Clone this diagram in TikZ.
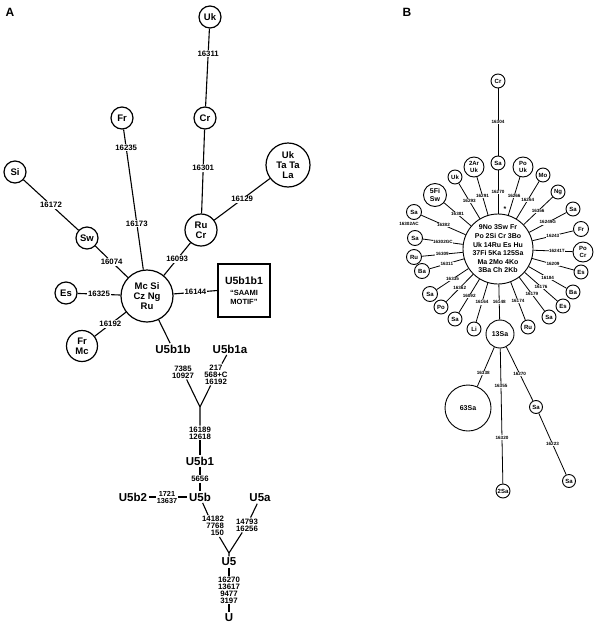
\documentclass[tikz,border=0pt]{standalone}
\usepackage{fontspec}
\setmainfont{Liberation Sans}

\begin{document}
\begin{tikzpicture}[x=1pt, y=-1pt,
    hapA/.style = {draw, circle, line width=1.2pt, inner sep=0pt, minimum size=22pt, align=center, font=\fontsize{9.5}{10}\selectfont\bfseries},
    mutA/.style = {fill=white, inner sep=1pt, align=center, font=\fontsize{7.8}{7}\selectfont\bfseries},
    grpA/.style = {inner sep=1.5pt, font=\fontsize{11.5}{12}\selectfont\bfseries},
    lineA/.style = {draw, line width=1.1pt},
    hapB/.style = {draw, circle, line width=0.9pt, inner sep=0pt, minimum size=14pt, align=center, font=\fontsize{6}{6.5}\selectfont\bfseries},
    mutB/.style = {fill=white, inner sep=0.5pt, font=\fontsize{4.6}{5}\selectfont\bfseries},
    lineB/.style = {draw, line width=0.8pt},
    panel/.style = {font=\fontsize{12}{12}\selectfont\bfseries}]
        \useasboundingbox (0,0) rectangle (595,627);
        \node (labA) at (10,12) [panel] {A};
        \node (labB) at (407,12) [panel] {B};

        \node (aUk) at (210,17) [hapA] {Uk};
        \node (aCr) at (205,118) [hapA] {Cr};
        \node (aFr) at (122,118) [hapA] {Fr};
        \node (aSi) at (15,172) [hapA] {Si};
        \node (aUkTa) at (288,165) [hapA, minimum size=44pt] {Uk\\Ta Ta\\La};
        \node (aRuCr) at (201,230) [hapA, minimum size=32pt] {Ru\\Cr};
        \node (aSw) at (87,238) [hapA] {Sw};
        \node (aHub) at (147,296) [hapA, minimum size=52pt] {Mc Si\\Cz Ng\\Ru};
        \node (aEs) at (66,293) [hapA] {Es};
        \node (aFrMc) at (82,346) [hapA, minimum size=31pt] {Fr\\Mc};
        \node (aBox) at (244,290.5) [draw, line width=1.1pt, minimum width=52pt, minimum height=53pt, inner sep=0pt, align=center, font=\fontsize{7.5}{9}\selectfont\bfseries] {{\fontsize{10.5}{12}\selectfont U5b1b1}\\[2pt]``SAAMI\\MOTIF''};
        \path [lineA] (aUk) -- node [mutA, pos=0.32] {16311} (aCr);
        \path [lineA] (aCr) -- node [mutA, pos=0.46] {16301} (aRuCr);
        \path [lineA] (aUkTa) -- node [mutA] {16129} (aRuCr);
        \path [lineA] (aRuCr) -- node [mutA] {16093} (aHub);
        \path [lineA] (aFr) -- node [mutA, pos=0.13] {16235} node [mutA, pos=0.67] {16173} (aHub);
        \path [lineA] (aSi) -- node [mutA] {16172} (aSw);
        \path [lineA] (aSw) -- node [mutA] {16074} (aHub);
        \path [lineA] (aEs) -- node [mutA] {16325} (aHub);
        \path [lineA] (aFrMc) -- node [mutA] {16192} (aHub);
        \path [lineA] (aBox.west) -- node [mutA] {16144} (aHub);

        \node (aU5b1b) at (173,349) [grpA] {U5b1b};
        \node (aU5b1a) at (230,349) [grpA] {U5b1a};
        \node (am1) at (183,372) [mutA] {7385\\10927};
        \node (am2) at (216,374.5) [mutA] {217\\568+C\\16192};
        \coordinate (aj1) at (200,407);
        \node (am3) at (200,433) [mutA] {16189\\12618};
        \node (aU5b1) at (200,461) [grpA] {U5b1};
        \node (am4) at (200,479) [mutA] {5656};
        \node (aU5b) at (200,497) [grpA] {U5b};
        \node (am5) at (167,497) [mutA, font=\fontsize{7.3}{7}\selectfont\bfseries] {1721\\13637};
        \node (aU5b2) at (133,497) [grpA] {U5b2};
        \node (aU5a) at (260,498) [grpA] {U5a};
        \node (am6) at (213,526) [mutA, align=right] {14182\\7768\\150};
        \node (am7) at (247,525) [mutA] {14793\\16256};
        \coordinate (aj2) at (229,553);
        \node (aU5) at (229,562) [grpA] {U5};
        \node (am8) at (229,590) [mutA] {16270\\13617\\9477\\3197};
        \node (aU) at (229,618) [grpA] {U};
        \path [lineA] (aHub) -- (aU5b1b);
        \path [lineA] (aU5b1a) -- (am2);
        \path [lineA] (am1) -- (aj1) -- (am3);
        \path [lineA] (am2) -- (aj1);
        \path [lineA] (am3) -- (aU5b1);
        \path [lineA] (aU5b1) -- (am4);
        \path [lineA] (am4) -- (aU5b);
        \path [lineA] (aU5b2) -- (am5);
        \path [lineA] (am5) -- (aU5b);
        \path [lineA] (aU5b) -- (am6);
        \path [lineA] (am6) -- (aj2) -- (aU5);
        \path [lineA] (aU5a) -- (am7);
        \path [lineA] (am7) -- (aj2);
        \path [lineA] (aU5) -- (am8);
        \path [lineA] (am8) -- (aU);

        \node (bHub) at (498,249) [draw, circle, line width=0.9pt, minimum size=70pt, inner sep=0pt, align=center, font=\fontsize{7}{8.6}\selectfont\bfseries] {9No 3Sw Fr\\Po 2Si Cr 3Bo\\Uk 14Ru Es Hu\\37Fi 5Ka 125Sa\\Ma 2Mo 4Ko\\3Ba Ch 2Kb};
        \node (bCr) at (498,81) [hapB] {Cr};
        \node (bSa1) at (498,163) [hapB] {Sa};
        \node (bStar) at (505,209) [font=\fontsize{7}{7}\selectfont\bfseries] {*};
        \node (bPoUk) at (523,167) [hapB, minimum size=20pt] {Po\\Uk};
        \node (bMo) at (543,175) [hapB] {Mo};
        \node (bNg) at (558,192) [hapB] {Ng};
        \node (bSa2) at (573,209) [hapB] {Sa};
        \node (bFr) at (581,229) [hapB, minimum size=15pt] {Fr};
        \node (bPoCr) at (583,252) [hapB, minimum size=20pt] {Po\\Cr};
        \node (bEs1) at (581,272) [hapB] {Es};
        \node (bBa1) at (573,292) [hapB] {Ba};
        \node (bEs2) at (563,306) [hapB] {Es};
        \node (bSa3) at (549,317) [hapB] {Sa};
        \node (bRu1) at (528,327) [hapB] {Ru};
        \node (b13Sa) at (500,334) [hapB, minimum size=28pt, font=\fontsize{7}{7}\selectfont\bfseries] {13Sa};
        \node (bLi) at (474,329) [hapB] {Li};
        \node (bSa4) at (455,319) [hapB] {Sa};
        \node (bPo) at (441,307) [hapB] {Po};
        \node (bSa5) at (430,294) [hapB, minimum size=15pt] {Sa};
        \node (bBa2) at (422,271) [hapB, minimum size=15pt] {Ba};
        \node (bRu2) at (414,257) [hapB, minimum size=15pt] {Ru};
        \node (bSa6) at (415,238) [hapB, minimum size=15pt] {Sa};
        \node (bSa7) at (414,212) [hapB, minimum size=15pt] {Sa};
        \node (bAC) at (409,224) [mutB, fill=none] {16302AC};
        \node (b5FiSw) at (435,195) [hapB, minimum size=23pt, font=\fontsize{7}{7.5}\selectfont\bfseries] {5Fi\\Sw};
        \node (bUk) at (455,177) [hapB] {Uk};
        \node (b2ArUk) at (474,167) [hapB, minimum size=20pt] {2Ar\\Uk};
        \node (b63Sa) at (468,408) [hapB, minimum size=46pt, font=\fontsize{7}{7}\selectfont\bfseries] {63Sa};
        \node (b2Sa) at (503,491) [hapB] {2Sa};
        \node (bSa8) at (536,407) [hapB, minimum size=13pt] {Sa};
        \node (bSa9) at (569,481) [hapB, minimum size=13pt] {Sa};
        \path [lineB] (bCr) -- node [mutB] {16304} (bSa1);
        \path [lineB] (bSa1) -- node [mutB] {16270} (bHub);
        \path [lineB] (bHub) -- node [mutB] {16266} (bPoUk);
        \path [lineB] (bHub) -- node [mutB] {16264} (bMo);
        \path [lineB] (bHub) -- node [mutB] {16356} (bNg);
        \path [lineB] (bHub) -- node [mutB] {16249G} (bSa2);
        \path [lineB] (bHub) -- node [mutB] {16243} (bFr);
        \path [lineB] (bHub) -- node [mutB, pos=0.6] {16241T} (bPoCr);
        \path [lineB] (bHub) -- node [mutB] {16209} (bEs1);
        \path [lineB] (bHub) -- node [mutB] {16184} (bBa1);
        \path [lineB] (bHub) -- node [mutB] {16176} (bEs2);
        \path [lineB] (bHub) -- node [mutB] {16179} (bSa3);
        \path [lineB] (bHub) -- node [mutB] {16174} (bRu1);
        \path [lineB] (bHub) -- node [mutB] {16148} (b13Sa);
        \path [lineB] (bHub) -- node [mutB] {16164} (bLi);
        \path [lineB] (bHub) -- node [mutB] {16092} (bSa4);
        \path [lineB] (bHub) -- node [mutB] {16362} (bPo);
        \path [lineB] (bHub) -- node [mutB] {16335} (bSa5);
        \path [lineB] (bHub) -- node [mutB] {16311} (bBa2);
        \path [lineB] (bHub) -- node [mutB] {16309} (bRu2);
        \path [lineB] (bHub) -- node [mutB] {16302GC} (bSa6);
        \path [lineB] (bHub) -- node [mutB] {16382} (bSa7);
        \path [lineB] (bHub) -- node [mutB] {16381} (b5FiSw);
        \path [lineB] (bHub) -- node [mutB] {16293} (bUk);
        \path [lineB] (bHub) -- node [mutB] {16291} (b2ArUk);
        \path [lineB] (b13Sa) -- node [mutB, pos=0.65] {16338} (b63Sa);
        \path [lineB] (b13Sa) -- node [mutB, pos=0.28] {16355} node [mutB, pos=0.66] {16320} (b2Sa);
        \path [lineB] (b13Sa) -- node [mutB] {16270} (bSa8);
        \path [lineB] (bSa8) -- node [mutB] {16223} (bSa9);
    \end{tikzpicture}
\end{document}
